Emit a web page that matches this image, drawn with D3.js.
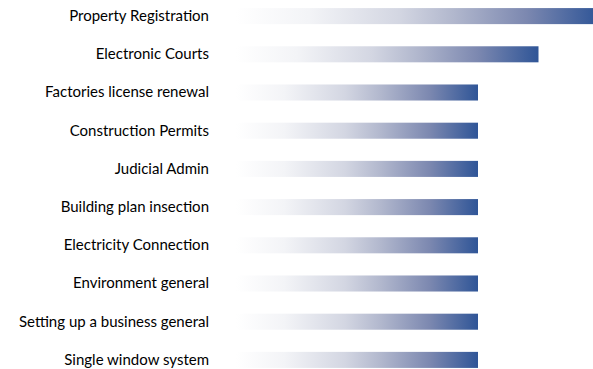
<!DOCTYPE html>
<html>
<head>
<meta charset="utf-8">
<script src="https://cdn.jsdelivr.net/npm/d3@7/dist/d3.min.js"></script>
<style>
  html, body { margin: 0; padding: 0; background: #ffffff; }
  svg { display: block; }
</style>
</head>
<body>
<svg id="chart" width="593" height="369"></svg>
<script>
// Reform areas, top to bottom, and their scores
const categories = [
  "Property Registration",
  "Electronic Courts",
  "Factories license renewal",
  "Construction Permits",
  "Judicial Admin",
  "Building plan insection",
  "Electricity Connection",
  "Environment general",
  "Setting up a business general",
  "Single window system"
];
const values = [6, 5, 4, 4, 4, 4, 4, 4, 4, 4];

const width = 593, height = 369;
const margin = { top: 0, right: 0, bottom: 0, left: 236 };

const svg = d3.select("#chart");

// Horizontal gradient applied across each bar's own length
const defs = svg.append("defs");
const grad = defs.append("linearGradient")
  .attr("id", "barFill")
  .attr("x1", "0%").attr("x2", "100%")
  .attr("y1", "0%").attr("y2", "0%");
[
  [0, "#ffffff"],
  [0.2, "#f3f4f7"],
  [0.45, "#d3d6e2"],
  [0.6, "#b1b7cd"],
  [0.8, "#7c88b0"],
  [1, "#2f5597"]
].forEach(([o, c]) => grad.append("stop").attr("offset", o).attr("stop-color", c));

const x = d3.scaleLinear()
  .domain([0, 6])
  .range([margin.left, 599]);

const y = d3.scaleBand()
  .domain(categories)
  .range([-3, 379])
  .paddingInner(0.58)
  .paddingOuter(0.29);

svg.append("g")
  .selectAll("rect")
  .data(categories)
  .join("rect")
  .attr("x", x(0))
  .attr("y", d => y(d))
  .attr("width", (d, i) => x(values[i]) - x(0))
  .attr("height", y.bandwidth())
  .attr("fill", "url(#barFill)");

// Category labels, right-aligned against the bar gap
const yAxis = d3.axisLeft(y).tickSize(0).tickPadding(0);
const gy = svg.append("g")
  .attr("transform", "translate(209,0)")
  .call(yAxis);
gy.select(".domain").remove();
gy.selectAll("text")
  .attr("fill", "#000000")
  .style("font-family", "Lato, 'Open Sans', sans-serif")
  .style("font-size", "15px");
</script>
</body>
</html>
